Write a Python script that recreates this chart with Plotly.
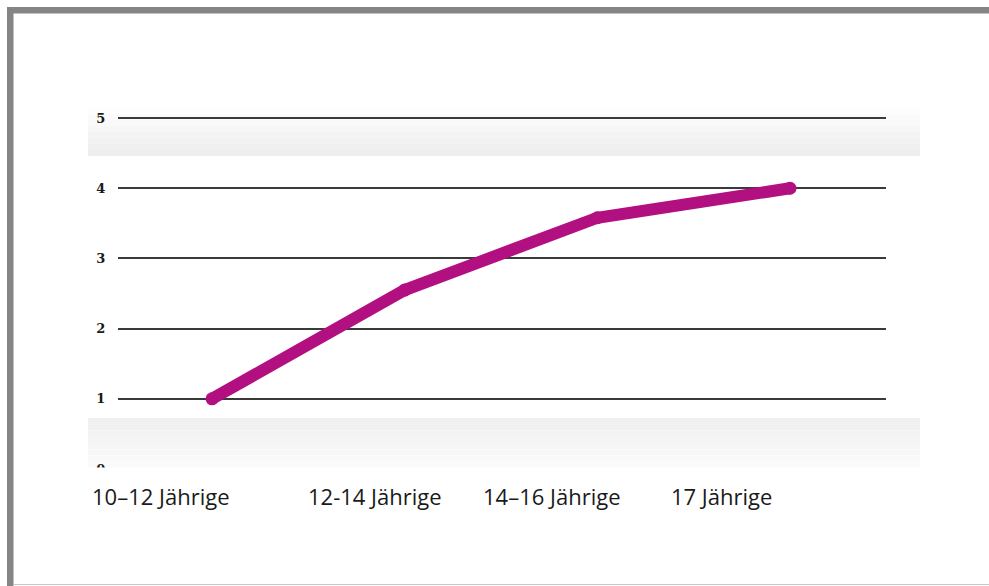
import plotly.graph_objects as go

# ---- data ----
categories = ["10–12 Jährige", "12-14 Jährige", "14–16 Jährige", "17 Jährige"]
values = [1.0, 2.55, 3.58, 4.0]
y_ticks = [0, 1, 2, 3, 4, 5]
y_tick_labels = ["0", "1", "2", "3", "4", "5"]
# label anchor offsets (in category units) as they appear under the chart
label_positions = [-0.635, 0.49, 1.395, 2.37]

W, H = 989, 586
L, R = 118, 886      # plot area x in px
T, B = 83, 469       # plot area y in px
X_RANGE = [-0.488, 3.498]


def px(x):
    return (x - L) / (R - L)


def py(y):
    return (B - y) / (B - T)


def cat_to_paper(v):
    return (v - X_RANGE[0]) / (X_RANGE[1] - X_RANGE[0])


fig = go.Figure()
fig.add_trace(go.Scatter(
    x=list(range(len(categories))), y=values, mode="lines+markers",
    line=dict(color="#B20F80", width=12),
    marker=dict(color="#B20F80", size=13),
    showlegend=False, hoverinfo="skip", cliponaxis=False,
))

shapes = []


def band(y_top, y_bot, c_top, c_bot, n=8):
    out = []
    for i in range(n):
        t = i / (n - 1)
        c = tuple(int(round(c_top[k] + (c_bot[k] - c_top[k]) * t)) for k in range(3))
        y0 = y_top + (y_bot - y_top) * i / n
        y1 = y_top + (y_bot - y_top) * (i + 1) / n
        out.append(dict(type="rect", xref="paper", yref="paper", layer="below",
                        x0=px(88), x1=px(920), y0=py(y0), y1=py(y1),
                        fillcolor="rgb(%d,%d,%d)" % c, line=dict(width=0)))
    return out


shapes += band(108, 156, (253, 253, 253), (238, 238, 238))
shapes += band(418, 468, (240, 240, 240), (250, 250, 250))

# white cover under the chart (hides lower part of the 0 label and the 0 grid line)
shapes.append(dict(type="rect", xref="paper", yref="paper", layer="above",
                   x0=px(60), x1=px(940), y0=py(467.6), y1=py(482),
                   fillcolor="white", line=dict(width=0)))
# frame
frame = "#858585"
shapes.append(dict(type="rect", xref="paper", yref="paper", layer="above",
                   x0=px(7), x1=px(995), y0=py(7), y1=py(13.5),
                   fillcolor=frame, line=dict(width=0)))
shapes.append(dict(type="rect", xref="paper", yref="paper", layer="above",
                   x0=px(7), x1=px(13.5), y0=py(7), y1=py(590),
                   fillcolor=frame, line=dict(width=0)))
shapes.append(dict(type="line", xref="paper", yref="paper", layer="above",
                   x0=px(13), x1=px(995), y0=py(584.5), y1=py(584.5),
                   line=dict(color="#c8c8c8", width=1)))

annotations = []
for pos, lab in zip(label_positions, categories):
    annotations.append(dict(x=cat_to_paper(pos), y=py(496), xref="paper", yref="paper",
                            text=lab, showarrow=False, xanchor="left", yanchor="middle",
                            font=dict(family="Open Sans, sans-serif", size=22, color="#1a1a1a")))

fig.update_layout(
    width=W, height=H,
    margin=dict(l=L, r=W - R, t=T, b=H - B, pad=0),
    paper_bgcolor="white", plot_bgcolor="rgba(0,0,0,0)",
    shapes=shapes, annotations=annotations,
    xaxis=dict(range=X_RANGE, showgrid=False, zeroline=False,
               showticklabels=False, showline=False, fixedrange=True),
    yaxis=dict(range=[0, 5.5], tickvals=y_ticks, ticktext=y_tick_labels,
               showgrid=True, gridcolor="#3a3a3a", gridwidth=1.6, zeroline=False,
               showline=False, ticks="outside", ticklen=9, tickcolor="rgba(0,0,0,0)",
               tickfont=dict(family="DejaVu Serif", size=13, color="#1a1a1a", weight="bold")),
)

fig.write_html("out.html")
